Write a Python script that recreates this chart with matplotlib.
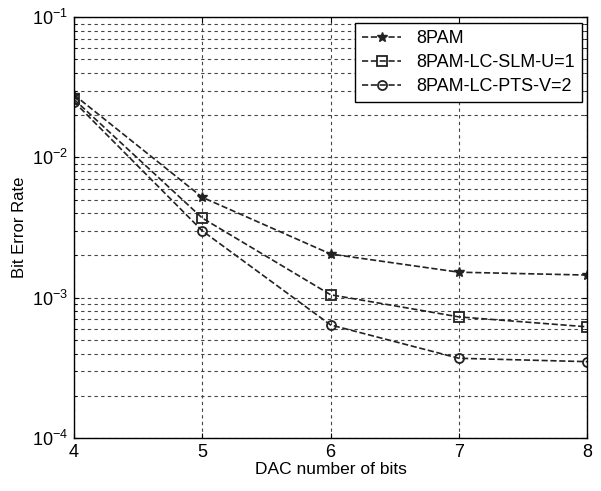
import matplotlib
matplotlib.use("Agg")
import matplotlib.pyplot as plt

plt.rcParams['font.family'] = ['Liberation Sans', 'DejaVu Sans']

bits = [4, 5, 6, 7, 8]
ber_8pam = [0.028, 0.0052, 0.00205, 0.00152, 0.00145]
ber_slm = [0.026, 0.0037, 0.00105, 0.00073, 0.00062]
ber_pts = [0.025, 0.0030, 0.00064, 0.00037, 0.00035]
labels = ["8PAM", "8PAM-LC-SLM-U=1", "8PAM-LC-PTS-V=2"]

fig = plt.figure(figsize=(6.01, 4.91), dpi=100)
ax = fig.add_axes([0.123, 0.108, 0.854, 0.857])

ax.semilogy(bits, ber_8pam, "--", color="#222222", marker="*", markersize=7, lw=1.2,
            markerfacecolor="#222222", label=labels[0])
ax.semilogy(bits, ber_slm, "--", color="#222222", marker="s", markersize=6.5, lw=1.2,
            markerfacecolor="none", markeredgewidth=1.3, label=labels[1])
ax.semilogy(bits, ber_pts, "--", color="#222222", marker="o", markersize=6.5, lw=1.2,
            markerfacecolor="none", markeredgewidth=1.3, label=labels[2])

ax.set_xlim(4, 8)
ax.set_ylim(1e-4, 1e-1)
ax.set_xticks(bits)
ax.grid(True, which="both", linestyle="--", color="#444444", linewidth=0.8, dashes=(3, 3))
ax.tick_params(which="both", direction="in", labelsize=13, top=True, right=True, pad=4)
ax.set_xlabel("DAC number of bits", fontsize=12.5, labelpad=1)
ax.set_ylabel("Bit Error Rate", fontsize=12)
for s in ax.spines.values():
    s.set_linewidth(1.0)

leg = ax.legend(loc="upper right", fontsize=13, fancybox=False, edgecolor="black",
                framealpha=1, handlelength=2.2, borderaxespad=0.3, labelspacing=0.4)
leg.get_frame().set_linewidth(1.0)

fig.savefig("out.png", dpi=100)
